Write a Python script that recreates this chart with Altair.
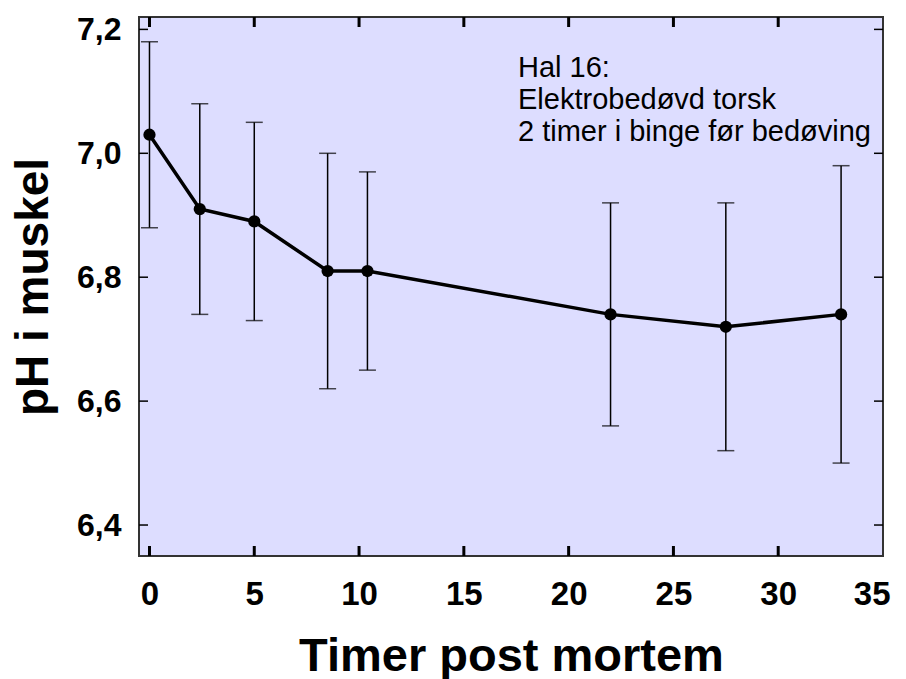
import altair as alt
import pandas as pd

# Data
hours = [0, 2.4, 5, 8.5, 10.4, 22, 27.5, 33]
ph_mean = [7.03, 6.91, 6.89, 6.81, 6.81, 6.74, 6.72, 6.74]
ph_low = [6.88, 6.74, 6.73, 6.62, 6.65, 6.56, 6.52, 6.50]
ph_high = [7.18, 7.08, 7.05, 7.00, 6.97, 6.92, 6.92, 6.98]

x_ticks = [0, 5, 10, 15, 20, 25, 30, 35]
y_ticks = [6.4, 6.6, 6.8, 7.0, 7.2]
annotation = ["Hal 16:", "Elektrobedøvd torsk", "2 timer i binge før bedøving"]

x_title = "Timer post mortem"
y_title = "pH i muskel"

W, H = 744, 539
FONT = "Liberation Sans"

df = pd.DataFrame({"t": hours, "ph": ph_mean, "lo": ph_low, "hi": ph_high})
xt = pd.DataFrame({"t": [v for v in x_ticks if v < 35]})
yt = pd.DataFrame({"ph": y_ticks})
note = pd.DataFrame({"note": ["\n".join(annotation)]})

xscale = alt.Scale(domain=[-0.5, 35], nice=False, zero=False)
yscale = alt.Scale(domain=[6.35, 7.22], nice=False, zero=False)

xaxis = alt.Axis(
    values=x_ticks, title=x_title, grid=False, domain=False, ticks=False, tickSize=0,
    labelFont=FONT, labelFontSize=33, labelFontWeight="bold", labelColor="black",
    labelBaseline="alphabetic", labelPadding=48,
    labelFlush=True, labelFlushOffset=7,
    titleFont=FONT, titleFontSize=47, titleFontWeight="bold", titleColor="black",
    titleBaseline="alphabetic", titleY=114,
)
yaxis = alt.Axis(
    values=y_ticks, title=y_title, grid=False, domain=False, ticks=False, tickSize=0,
    labelExpr="replace(format(datum.value, '.1f'), '.', ',')",
    labelFont=FONT, labelFontSize=32, labelFontWeight="bold", labelColor="black",
    labelPadding=18, labelBaseline="middle", labelFlush=False,
    titleFont=FONT, titleFontSize=46, titleFontWeight="bold", titleColor="black",
    titleAngle=270, titleBaseline="alphabetic", titleAlign="center",
    titleX=-92, titleY=H / 2,
)

base = alt.Chart(df)

bars = base.mark_rule(color="black", strokeWidth=1.5).encode(
    x=alt.X("t:Q", scale=xscale, axis=xaxis),
    y=alt.Y("lo:Q", scale=yscale, axis=yaxis),
    y2="hi:Q",
)
cap_hi = base.mark_tick(color="black", orient="horizontal", size=17, thickness=1.5).encode(
    x=alt.X("t:Q", scale=xscale), y=alt.Y("hi:Q", scale=yscale)
)
cap_lo = base.mark_tick(color="black", orient="horizontal", size=17, thickness=1.5).encode(
    x=alt.X("t:Q", scale=xscale), y=alt.Y("lo:Q", scale=yscale)
)
line = base.mark_line(color="black", strokeWidth=3.5).encode(
    x=alt.X("t:Q", scale=xscale), y=alt.Y("ph:Q", scale=yscale)
)
pts = base.mark_point(filled=True, color="black", size=150, opacity=1).encode(
    x=alt.X("t:Q", scale=xscale), y=alt.Y("ph:Q", scale=yscale)
)

xt_bot = alt.Chart(xt).mark_rule(color="black", strokeWidth=3).encode(
    x=alt.X("t:Q", scale=xscale), y=alt.value(H), y2=alt.value(H - 10)
)
xt_top = alt.Chart(xt).mark_rule(color="black", strokeWidth=3).encode(
    x=alt.X("t:Q", scale=xscale), y=alt.value(0), y2=alt.value(10)
)
yt_left = alt.Chart(yt).mark_rule(color="black", strokeWidth=1.5).encode(
    y=alt.Y("ph:Q", scale=yscale), x=alt.value(0), x2=alt.value(9)
)
yt_right = alt.Chart(yt).mark_rule(color="black", strokeWidth=1.5).encode(
    y=alt.Y("ph:Q", scale=yscale), x=alt.value(W), x2=alt.value(W - 9)
)

txt = alt.Chart(note).mark_text(
    align="left", baseline="alphabetic", lineBreak="\n", lineHeight=32,
    font=FONT, fontSize=29, color="black",
).encode(text="note:N", x=alt.value(379), y=alt.value(60))

chart = alt.layer(
    bars, cap_hi, cap_lo, line, pts, xt_bot, xt_top, yt_left, yt_right, txt
).properties(
    width=W, height=H,
    autosize=alt.AutoSizeParams(type="none"),
    padding={"left": 131, "top": 9, "right": 15, "bottom": 123},
    background="white",
).configure_view(
    fill="#DDDDFF", stroke="#333333", strokeWidth=2
)

chart.save("out.html", embed_options={"renderer": "svg", "actions": False})
